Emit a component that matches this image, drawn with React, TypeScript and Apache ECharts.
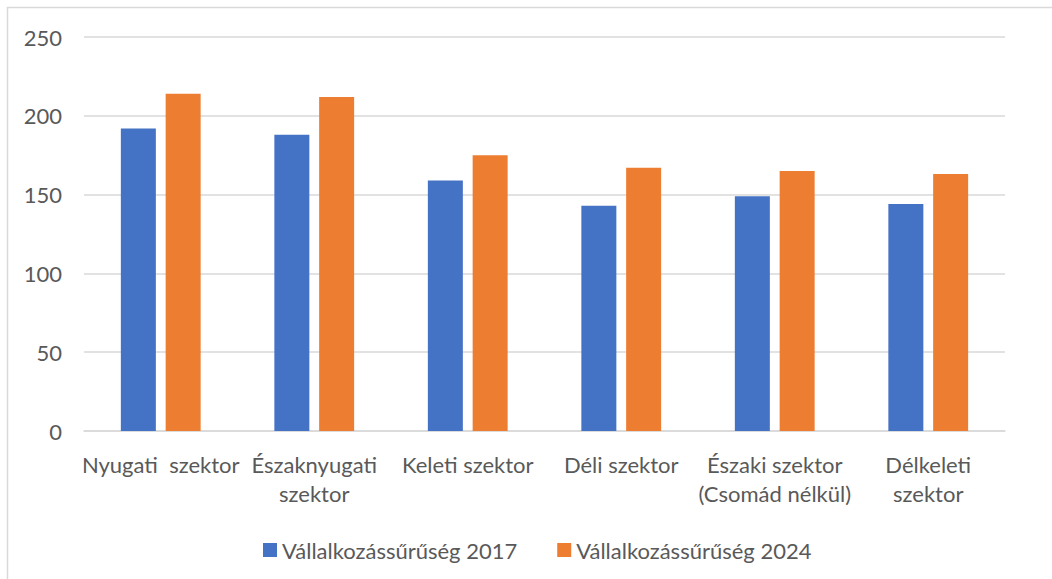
import React, { useEffect, useRef } from "react";
import * as echarts from "echarts";

const categories = [
  "Nyugati  szektor",
  "Északnyugati\nszektor",
  "Keleti szektor",
  "Déli szektor",
  "Északi szektor\n(Csomád nélkül)",
  "Délkeleti\nszektor",
];
const series2017 = [192, 188, 159, 143, 149, 144];
const series2024 = [214, 212, 175, 167, 165, 163];
const seriesNames = ["Vállalkozássűrűség 2017", "Vállalkozássűrűség 2024"];
const yTicks = { min: 0, max: 250, interval: 50 };

const FONT = "Lato, 'Noto Sans', sans-serif";
const TEXT = "#595959";

export default function App() {
  const ref = useRef<HTMLDivElement>(null);
  useEffect(() => {
    if (!ref.current) return;
    const chart = echarts.init(ref.current, undefined, { renderer: "svg" });
    chart.setOption({
      animation: false,
      backgroundColor: "#ffffff",
      textStyle: { fontFamily: FONT, color: TEXT },
      graphic: [
        {
          type: "rect",
          shape: { x: 7.5, y: 7.5, width: 1200, height: 700 },
          style: { fill: "none", stroke: "#d9d9d9", lineWidth: 1.5 },
          silent: true,
          z: -1,
        },
      ],
      grid: { left: 84, right: 47, top: 37, bottom: 148, containLabel: false },
      legend: {
        left: 258,
        top: 534,
        padding: 5,
        icon: "rect",
        itemWidth: 14,
        itemHeight: 14,
        itemGap: 40,
        textStyle: { fontFamily: FONT, color: TEXT, fontSize: 22 },
        data: seriesNames,
      },
      xAxis: {
        type: "category",
        data: categories,
        axisLine: { lineStyle: { color: "#d9d9d9", width: 1.5 } },
        axisTick: { show: false },
        axisLabel: {
          interval: 0,
          margin: 19,
          lineHeight: 29,
          fontFamily: FONT,
          fontSize: 22,
          color: TEXT,
        },
      },
      yAxis: {
        type: "value",
        min: yTicks.min,
        max: yTicks.max,
        interval: yTicks.interval,
        axisLine: { show: false },
        axisTick: { show: false },
        splitLine: { lineStyle: { color: "#d9d9d9", width: 1.5 } },
        axisLabel: { margin: 22, fontFamily: FONT, fontSize: 22, color: TEXT },
      },
      series: [
        {
          name: seriesNames[0],
          type: "bar",
          data: series2017,
          barWidth: 35,
          barGap: "28%",
          itemStyle: { color: "#4472C4" },
        },
        {
          name: seriesNames[1],
          type: "bar",
          data: series2024,
          barWidth: 35,
          itemStyle: { color: "#ED7D31" },
        },
      ],
    });
    return () => chart.dispose();
  }, []);
  return (
    <div
      ref={ref}
      style={{ position: "absolute", left: 0, top: 0, width: 1052, height: 579 }}
    />
  );
}
